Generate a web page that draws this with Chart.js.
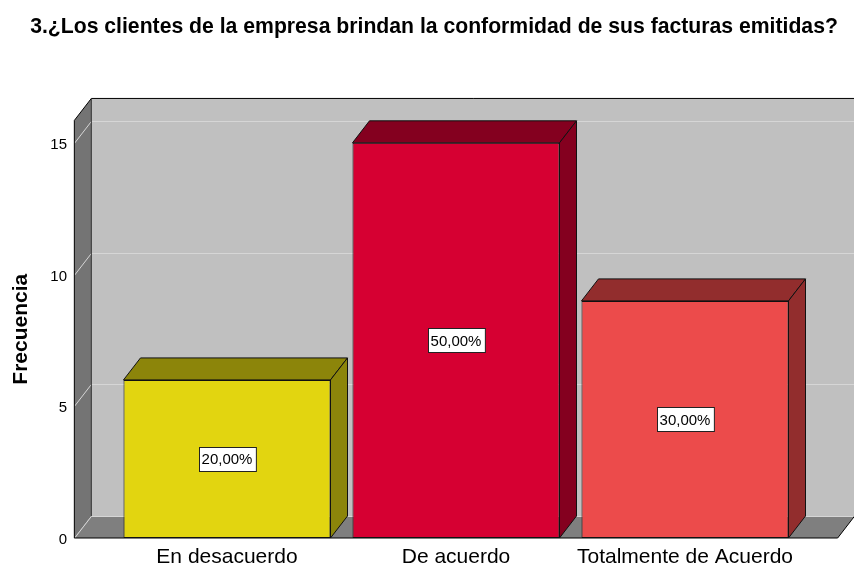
<!DOCTYPE html>
<html><head><meta charset="utf-8">
<script src="https://cdn.jsdelivr.net/npm/chart.js@4/dist/chart.umd.min.js"></script>
<style>html,body{margin:0;padding:0;background:#fff;overflow:hidden}#wrap{position:relative;width:854px;height:570px}canvas{display:block}</style>
</head><body><div id="wrap"><canvas id="c"></canvas></div>
<script>
const categories = ['En desacuerdo', 'De acuerdo', 'Totalmente de Acuerdo'];
const frequencies = [6, 15, 9];
const yTicks = [0, 5, 10, 15];
const chartTitle = '3.¿Los clientes de la empresa brindan la conformidad de sus facturas emitidas?';
const axisTitle = 'Frecuencia';

const frontColors = ['#e2d510', '#d60032', '#ec4b4b'];
const shadeColors = ['#8c850a', '#84001f', '#922d2d'];

const total = frequencies.reduce((a, b) => a + b, 0);
const percentLabels = frequencies.map(v => (v / total * 100).toFixed(2).replace('.', ',') + '%');

const DX = 17, DY = -22;
const FONT = "'Liberation Sans', Arial, sans-serif";

function poly(ctx, pts, fill, stroke) {
  ctx.beginPath();
  ctx.moveTo(pts[0][0], pts[0][1]);
  for (let i = 1; i < pts.length; i++) ctx.lineTo(pts[i][0], pts[i][1]);
  ctx.closePath();
  if (fill) { ctx.fillStyle = fill; ctx.fill(); }
  if (stroke) { ctx.strokeStyle = stroke; ctx.lineWidth = 1; ctx.stroke(); }
}
function line(ctx, pts, color) {
  ctx.beginPath();
  ctx.moveTo(pts[0][0], pts[0][1]);
  for (let i = 1; i < pts.length; i++) ctx.lineTo(pts[i][0], pts[i][1]);
  ctx.strokeStyle = color; ctx.lineWidth = 1; ctx.stroke();
}

const threeD = {
  id: 'threeD',
  beforeDatasetsDraw(chart) {
    const { ctx, chartArea: a, scales: { y } } = chart;
    const band = (a.right - a.left) / categories.length;
    const L = a.left - band / 6, R = a.right + band / 6, T = a.top, B = a.bottom;
    ctx.save();
    ctx.fillStyle = '#c0c0c0';
    ctx.fillRect(L + DX, T + DY, R - L + 10, B - T);
    poly(ctx, [[L, B], [L + DX, B + DY], [R + DX, B + DY], [R, B]], '#7f7f7f');
    poly(ctx, [[L, T], [L + DX, T + DY], [L + DX, B + DY], [L, B]], '#747474');
    y.ticks.forEach(t => {
      const py = Math.round(y.getPixelForValue(t.value)) + 0.5;
      line(ctx, [[L, py], [L + DX, py + DY], [R + DX + 10, py + DY]], '#d6d6d6');
    });
    line(ctx, [[L, B], [L, T], [L + DX, T + DY], [R + DX + 10, T + DY]], '#000');
    line(ctx, [[L + DX, T + DY], [L + DX, B + DY]], '#333');
    line(ctx, [[L, B], [R, B], [R + DX, B + DY]], '#000');
    ctx.restore();
  },
  afterDatasetsDraw(chart) {
    const { ctx } = chart;
    const meta = chart.getDatasetMeta(0);
    ctx.save();
    meta.data.forEach((bar, i) => {
      const { x, y, base, width } = bar.getProps(['x', 'y', 'base', 'width'], true);
      const l = x - width / 2, r = x + width / 2;
      poly(ctx, [[l, y], [l + DX, y + DY], [r + DX, y + DY], [r, y]], shadeColors[i], '#111');
      poly(ctx, [[r, y], [r + DX, y + DY], [r + DX, base + DY], [r, base]], shadeColors[i], '#111');
      const txt = percentLabels[i];
      ctx.font = '15px ' + FONT;
      const w = ctx.measureText(txt).width + 6;
      const h = 24;
      const cy = (y + base) / 2;
      const bx = Math.round(x - w / 2) + 0.5, by = Math.round(cy - h / 2) + 0.5;
      ctx.fillStyle = '#fff';
      ctx.fillRect(bx, by, w, h);
      ctx.strokeStyle = '#222';
      ctx.lineWidth = 1;
      ctx.strokeRect(bx, by, w, h);
      ctx.fillStyle = '#000';
      ctx.textAlign = 'center';
      ctx.textBaseline = 'middle';
      ctx.fillText(txt, x, cy + 1);
    });
    ctx.restore();
  }
};

new Chart(document.getElementById('c'), {
  type: 'bar',
  data: {
    labels: categories,
    datasets: [{
      data: frequencies,
      backgroundColor: frontColors,
      borderColor: '#111',
      borderWidth: 1,
      borderSkipped: false,
      barPercentage: 0.904,
      categoryPercentage: 1,
      yAxisID: 'y'
    }]
  },
  options: {
    responsive: true,
    maintainAspectRatio: false,
    animation: false,
    devicePixelRatio: 1,
    layout: { padding: { left: 14, right: 0, top: 0, bottom: 0 } },
    plugins: {
      legend: { display: false },
      tooltip: { enabled: false },
      title: {
        display: true,
        text: chartTitle,
        color: '#000',
        font: { family: FONT, size: 21.2, weight: 'bold' },
        padding: { top: 14, bottom: 81 }
      }
    },
    scales: {
      x: {
        offset: true,
        grid: { display: false, drawTicks: false },
        border: { display: false },
        ticks: { color: '#000', font: { family: FONT, size: 21 }, padding: 7, maxRotation: 0, autoSkip: false },
        afterFit(s) { s.height = 32; s.paddingLeft = 0; s.paddingRight = 0; }
      },
      y: {
        position: 'left',
        min: 0,
        max: 15.85,
        grid: { display: false, drawTicks: false },
        border: { display: false },
        afterBuildTicks(s) { s.ticks = yTicks.map(v => ({ value: v })); },
        ticks: { color: '#000', font: { family: FONT, size: 15 }, padding: 45.5, labelOffset: 2 },
        title: {
          display: true,
          text: axisTitle,
          color: '#000',
          font: { family: FONT, size: 21, weight: 'bold' },
          padding: { top: -5.6, bottom: 0 }
        },
        afterFit(s) { s.width = 98.5; s.paddingTop = 0; s.paddingBottom = 0; }
      },
      yR: {
        position: 'right',
        display: true,
        grid: { display: false, drawTicks: false },
        border: { display: false },
        ticks: { display: false },
        afterFit(s) { s.width = 54.5; s.paddingTop = 0; s.paddingBottom = 0; }
      }
    }
  },
  plugins: [threeD]
});
</script>
</body></html>
